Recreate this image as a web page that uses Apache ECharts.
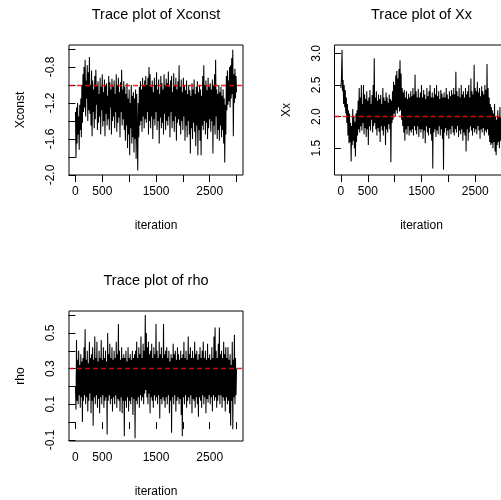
<!DOCTYPE html>
<html>
<head>
<meta charset="utf-8">
<script src="https://cdn.jsdelivr.net/npm/echarts@6/dist/echarts.min.js"></script>
<style>
html,body{margin:0;padding:0;background:#fff;}
#chart{width:501px;height:500px;}
</style>
</head>
<body>
<div id="chart"></div>
<script>
// ---- data (one stored value per 10 iterations) ----
const thinStep = 10;
const parameterNames = ["Xconst", "Xx", "rho"];
const trueValues = [-1.0, 2.0, 0.3];

const xconstValues = [
  -1.30,-1.81,-1.25,-1.65,-1.20,-1.55,-1.35,-1.72,-1.22,-1.50,-1.15,-1.58,-1.00,-1.42,-0.88,-1.30,
  -0.80,-1.25,-0.72,-1.35,-0.95,-1.15,-0.78,-1.40,-0.86,-1.28,-0.69,-1.32,-1.00,-1.45,-0.84,
  -1.57,-0.95,-1.30,-1.05,-1.48,-0.90,-1.38,-0.83,-1.22,-1.00,-1.50,-0.96,-1.42,-1.10,-1.35,-0.92,-1.55,-1.02,-1.28,-0.88,
  -1.46,-1.08,-1.40,-0.94,-1.57,-1.00,-1.32,-0.98,-1.45,-1.12,-1.38,-0.90,-1.50,-0.97,-1.25,-1.05,-1.55,-0.93,-1.40,-1.02,
  -1.35,-0.95,-1.48,-1.10,-1.30,-0.88,-1.52,-1.00,-1.42,-0.92,-1.36,-1.08,-1.58,-0.97,-1.30,-0.83,-1.45,-1.05,-1.38,-0.96,
  -1.50,-1.02,-1.62,-1.10,-1.45,-0.98,-1.70,-1.15,-1.55,-1.05,-1.78,-1.20,-1.48,-1.00,-1.65,-1.12,-1.58,-1.08,-1.75,-1.15,
  -1.60,-1.05,-1.82,-1.10,-1.50,-1.95,-1.20,-1.58,-1.02,-1.45,-0.96,-1.40,-1.05,-1.52,-0.92,-1.35,-1.00,-1.48,-0.95,-1.38,
  -0.90,-1.42,-1.00,-1.30,-0.92,-1.55,-0.80,-1.40,-0.88,-1.48,-1.02,-1.35,-0.95,-1.60,-1.08,-1.38,-0.92,-1.45,-1.00,-1.30,
  -0.86,-1.50,-1.05,-1.40,-0.94,-1.65,-1.10,-1.36,-0.90,-1.48,-0.98,-1.42,-1.05,-1.55,-0.88,-1.32,-1.00,-1.50,-0.93,-1.40,
  -0.98,-1.45,-0.85,-1.35,-1.02,-1.58,-0.95,-1.30,-0.90,-1.48,-1.08,-1.40,-0.87,-1.52,-1.00,-1.35,-0.92,-1.62,-1.05,-1.42,
  -0.96,-1.38,-0.78,-1.45,-1.02,-1.55,-0.94,-1.40,-1.08,-1.50,-0.92,-1.35,-1.00,-1.62,-1.06,-1.45,-0.95,-1.58,-1.10,-1.40,
  -1.00,-1.55,-1.06,-1.76,-1.12,-1.48,-0.98,-1.60,-1.05,-1.42,-0.94,-1.52,-1.10,-1.68,-1.02,-1.45,-0.96,-1.78,-1.08,-1.50,
  -1.00,-1.62,-1.05,-1.78,-1.12,-1.45,-0.90,-1.50,-0.78,-1.40,-1.00,-1.55,-0.95,-1.42,-1.06,-1.60,-0.92,-1.48,-1.02,-1.38,
  -0.98,-1.52,-1.05,-1.40,-0.94,-1.76,-1.00,-1.45,-0.88,-1.55,-0.72,-1.35,-1.05,-1.60,-1.10,-1.50,-1.00,-1.62,-1.08,-1.45,
  -1.02,-1.58,-1.12,-1.50,-1.05,-1.65,-1.15,-1.86,-1.22,-1.55,
  -0.90,-1.28,-0.84,-1.22,-0.95,-1.18,-0.80,-1.25,-0.78,-1.15,-0.70,-1.10,-0.61,-1.57,-0.88,-1.20,-0.82,-1.15,-0.90,-1.08
];

const xxValues = [
  2.45,2.60,3.05,2.40,2.58,2.20,2.50,2.15,2.42,2.05,2.30,1.90,2.20,1.70,2.10,1.58,
  2.05,1.60,1.90,1.29,1.85,1.55,2.12,1.62,2.00,1.50,1.92,1.37,2.05,1.60,2.10,
  1.70,2.25,1.80,2.45,1.75,2.30,1.85,2.50,1.78,2.20,1.90,2.50,1.72,2.35,1.82,2.28,1.68,2.40,1.80,2.25,
  1.55,2.30,1.85,2.42,1.78,2.20,1.95,2.34,1.75,2.50,1.85,2.92,1.90,2.30,1.80,2.40,1.70,2.25,1.82,2.35,
  1.76,2.28,1.60,2.34,1.85,2.20,1.78,2.45,1.70,2.30,1.85,2.25,1.55,2.38,1.80,2.30,1.75,2.22,1.88,2.35,
  1.80,2.28,1.28,2.25,1.90,2.40,1.95,2.55,2.05,2.50,2.00,2.65,2.10,2.72,2.05,2.60,2.15,2.75,2.08,2.89,
  2.10,2.68,1.95,2.45,1.85,2.38,1.75,2.42,1.62,2.30,1.80,2.40,1.72,2.28,1.85,2.36,1.70,2.30,1.78,2.40,
  1.75,2.32,1.80,2.45,1.70,2.35,1.85,2.66,1.78,2.40,1.72,2.30,1.85,2.44,1.68,2.30,1.80,2.38,1.75,2.50,
  1.80,2.30,1.65,2.42,1.78,2.35,1.58,2.28,1.85,2.45,1.75,2.32,1.70,2.40,1.82,2.50,1.72,2.30,1.62,2.38,
  1.18,2.30,1.75,2.45,1.80,2.35,1.68,2.50,1.78,2.32,1.72,2.40,1.85,2.28,1.70,2.42,1.80,2.36,1.65,2.30,
  1.16,2.38,1.75,2.30,1.82,2.45,1.70,2.35,1.78,2.28,1.65,2.40,1.80,2.32,1.72,2.42,1.85,2.35,1.75,2.45,
  1.70,2.35,1.80,2.71,1.75,2.40,1.85,2.32,1.68,2.45,1.78,2.30,1.72,2.50,1.80,2.35,1.62,2.40,1.75,2.30,
  1.70,2.45,1.45,2.35,1.80,2.40,1.62,2.50,1.75,2.30,1.85,2.60,1.78,2.40,1.70,2.35,1.82,2.82,1.75,2.45,
  1.80,2.40,1.72,2.55,1.85,2.38,1.78,2.45,1.65,2.32,1.80,2.48,1.75,2.40,1.82,2.35,1.70,2.50,1.78,2.42,
  1.75,2.83,1.80,2.45,1.70,2.30,1.60,2.20,1.55,2.15,
  1.58,2.10,1.50,2.05,1.60,2.20,1.45,2.00,1.39,1.95,1.55,2.10,1.60,2.00,1.50,2.15,1.62,1.98,1.55,2.05
];

const rhoValues = [
  0.20,0.07,0.46,0.12,0.35,0.10,0.40,0.15,0.32,0.08,0.38,0.14,0.34,0.00,0.36,0.12,
  0.42,0.15,0.52,0.10,0.35,0.14,0.40,0.06,0.33,0.12,0.45,0.16,0.36,0.05,0.38,
  0.12,0.42,-0.02,0.35,0.14,0.48,0.10,0.36,0.15,0.45,0.08,0.34,0.13,0.40,0.05,0.36,0.14,0.46,0.10,0.35,
  0.15,0.42,0.08,0.36,0.12,0.40,0.14,0.34,-0.07,0.50,0.12,0.38,0.15,0.44,0.10,0.36,0.13,0.42,0.06,0.35,
  0.14,0.40,0.10,0.36,0.15,0.45,0.08,0.38,0.13,0.55,0.12,0.40,0.06,0.35,0.14,0.42,0.05,0.36,0.12,0.38,
  -0.08,0.36,0.12,0.40,0.08,0.34,0.14,0.42,0.06,0.36,0.12,0.38,0.10,0.35,0.14,0.40,0.04,0.36,0.13,0.38,
  -0.09,0.40,0.12,0.45,0.10,0.36,0.14,0.42,0.08,0.38,0.15,0.48,0.12,0.36,0.14,0.44,0.10,0.40,0.16,0.60,
  0.18,0.50,0.14,0.42,0.10,0.45,0.16,0.38,0.05,0.40,0.14,0.44,0.12,0.36,0.08,0.42,0.15,0.38,0.12,0.55,
  0.14,0.40,0.10,0.36,0.15,0.45,0.02,0.38,0.13,0.42,0.10,0.36,0.14,0.55,0.12,0.38,0.08,0.40,0.14,0.42,
  0.10,0.36,0.15,0.40,0.05,0.34,0.12,0.38,-0.06,0.36,0.14,0.44,0.10,0.38,0.15,0.40,0.06,0.35,0.12,0.42,
  0.14,0.38,0.10,0.35,0.13,0.40,0.04,0.36,-0.08,0.38,0.14,0.45,0.10,0.36,0.15,0.40,0.08,0.35,0.12,0.48,
  0.14,0.38,0.10,0.42,0.15,0.36,0.05,0.40,0.13,0.36,0.12,0.45,0.08,0.38,0.14,0.40,0.10,0.35,0.03,0.38,
  0.14,0.42,0.12,0.36,0.08,0.40,0.15,0.45,0.10,0.36,0.14,0.40,0.05,0.35,0.13,0.44,0.11,0.36,0.15,0.38,
  0.10,0.35,0.14,0.42,0.06,0.36,0.15,0.48,0.12,0.53,0.14,0.40,0.08,0.36,0.12,0.44,0.15,0.53,0.10,0.38,
  0.15,0.40,0.08,0.36,0.14,0.45,0.12,0.38,0.06,0.42,
  0.14,0.36,0.10,0.42,0.12,0.35,0.05,0.38,-0.02,0.32,0.12,0.45,-0.04,0.35,0.14,0.49,0.10,0.36,0.15,0.30
];

// axis ticks / labels
const xTicks = [0, 500, 1000, 1500, 2000, 2500, 3000];
const xTickLabels = [0, 500, 1500, 2500];
const yTicksXconst = [-2.0, -1.8, -1.6, -1.4, -1.2, -1.0, -0.8, -0.6];
const yLabelsXconst = [-2.0, -1.6, -1.2, -0.8];
const yTicksXx = [1.5, 2.0, 2.5, 3.0];
const yLabelsXx = [1.5, 2.0, 2.5, 3.0];
const yTicksRho = [-0.1, 0.0, 0.1, 0.2, 0.3, 0.4, 0.5, 0.6];
const yLabelsRho = [-0.1, 0.1, 0.3, 0.5];

// ---- chart ----
const FONT = '"Liberation Sans", Arial, Helvetica, sans-serif';
const panels = [
  {left: 69,    top: 45,  yMin: -2.0,   yMax: -0.556, ticks: yTicksXconst, labels: yLabelsXconst, values: xconstValues},
  {left: 334.5, top: 45,  yMin: 1.078,  yMax: 3.131,  ticks: yTicksXx,     labels: yLabelsXx,     values: xxValues},
  {left: 69,    top: 311, yMin: -0.106, yMax: 0.623,  ticks: yTicksRho,    labels: yLabelsRho,    values: rhoValues}
];
const W = 174, H = 130;

const grids = [], xAxes = [], yAxes = [], series = [], graphics = [];
panels.forEach((p, k) => {
  grids.push({left: p.left, top: p.top, width: W, height: H, show: true,
    borderColor: '#000', borderWidth: 1, backgroundColor: 'transparent',
    containLabel: false, outerBoundsMode: 'none'});
  xAxes.push({
    type: 'value', gridIndex: k, min: -120, max: 3120,
    name: 'iteration', nameLocation: 'middle', nameGap: 45,
    nameTextStyle: {fontSize: 12, fontFamily: FONT, color: '#000', verticalAlign: 'top'},
    axisLine: {show: false}, splitLine: {show: false},
    axisTick: {show: true, inside: false, length: 7, lineStyle: {color: '#000', width: 1}, customValues: xTicks},
    axisLabel: {show: true, margin: 11, fontSize: 12, fontFamily: FONT, color: '#000',
      customValues: xTickLabels, formatter: v => String(v)}
  });
  yAxes.push({
    type: 'value', gridIndex: k, min: p.yMin, max: p.yMax,
    name: parameterNames[k], nameLocation: 'middle', nameGap: 42, nameRotate: 90,
    nameTextStyle: {fontSize: 12, fontFamily: FONT, color: '#000'},
    axisLine: {show: false}, splitLine: {show: false},
    axisTick: {show: true, inside: false, length: 7, lineStyle: {color: '#000', width: 1}, customValues: p.ticks},
    axisLabel: {show: true, rotate: 90, margin: 12, fontSize: 12, fontFamily: FONT, color: '#000',
      customValues: p.labels, formatter: v => Number(v).toFixed(1)}
  });
  series.push({
    type: 'line', xAxisIndex: k, yAxisIndex: k, showSymbol: false, symbol: 'none',
    data: p.values.map((v, i) => [i * thinStep, v]),
    lineStyle: {color: '#000', width: 1.05}, silent: true, animation: false, z: 2,
    markLine: {
      silent: true, symbol: 'none', animation: false, z: 5,
      label: {show: false},
      lineStyle: {color: '#ff0000', type: [5, 3], width: 1.3, opacity: 0.85},
      data: [{yAxis: trueValues[k]}]
    }
  });
  graphics.push({
    type: 'text', x: p.left + W / 2, y: p.top - 38,
    style: {text: 'Trace plot of ' + parameterNames[k], fontSize: 14.5, fontFamily: FONT,
      fill: '#000', align: 'center', verticalAlign: 'top'}
  });
});

const chart = echarts.init(document.getElementById('chart'), null, {renderer: 'canvas'});
chart.setOption({
  animation: false,
  backgroundColor: '#fff',
  grid: grids, xAxis: xAxes, yAxis: yAxes, series: series, graphic: graphics
});
</script>
</body>
</html>
